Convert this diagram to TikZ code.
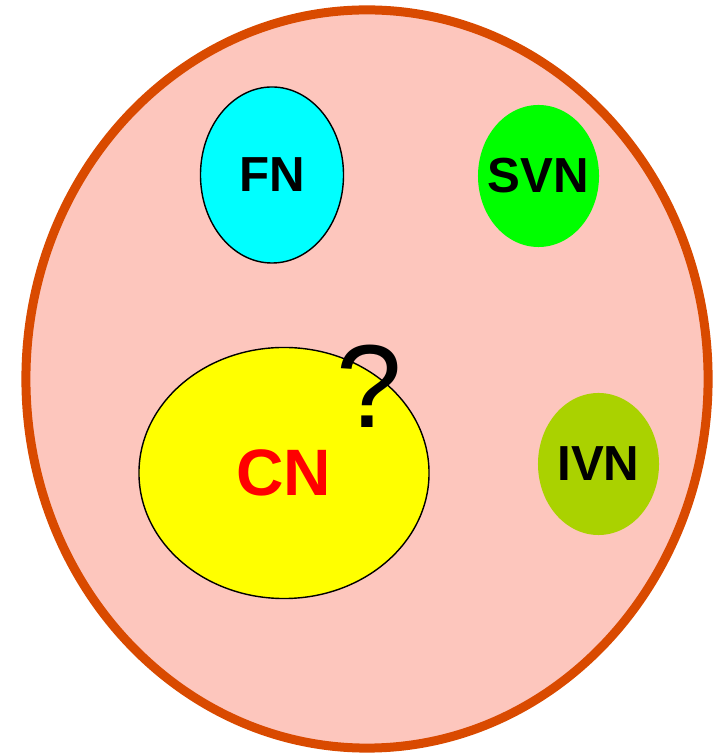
\documentclass[tikz,border=0pt]{standalone}
\usepackage{fontspec}
\setmainfont{Liberation Sans}
\usepackage{tikz}
\usetikzlibrary{shapes.geometric}
\usepackage{xcolor}
\definecolor{setfill}{RGB}{253,198,189}
\definecolor{setline}{RGB}{217,74,0}
\definecolor{fncyan}{RGB}{0,255,255}
\definecolor{svngreen}{RGB}{0,255,0}
\definecolor{cnyellow}{RGB}{255,255,0}
\definecolor{cnred}{RGB}{255,0,0}
\definecolor{ivngreen}{RGB}{170,210,0}

\begin{document}
\begin{tikzpicture}[x=0.025cm,y=0.025cm,
		lbl/.style={font=\fontsize{35}{40}\selectfont\bfseries},
		blob/.style={shape=ellipse,inner sep=0pt}]
		\useasboundingbox (0,0) rectangle (713,755);
		\node[blob,draw=setline,line width=6.4pt,fill=setfill,minimum width=17.05cm,minimum height=18.45cm] (set) at (367,376) {};
		
		\node[blob,draw=black,line width=1pt,fill=fncyan,minimum width=3.575cm,minimum height=4.4cm,label={[lbl]center:FN}] (fn) at (272,580) {};
		\node[blob,fill=svngreen,minimum width=3.025cm,minimum height=3.55cm,label={[lbl]center:SVN}] (svn) at (538.5,579) {};
		\node[blob,draw=black,line width=1pt,fill=cnyellow,minimum width=7.25cm,minimum height=6.275cm,label={[lbl,text=cnred,font=\fontsize{46.7}{50}\selectfont\bfseries]center:CN}] (cn) at (284,282) {};
		\node[blob,fill=ivngreen,minimum width=3.025cm,minimum height=3.55cm,label={[lbl]center:IVN}] (ivn) at (598.5,291) {};
		
		\node[inner sep=0pt,font=\fontsize{84}{90}\selectfont] (q) at (369,369) {?};
		\end{tikzpicture}
\end{document}
